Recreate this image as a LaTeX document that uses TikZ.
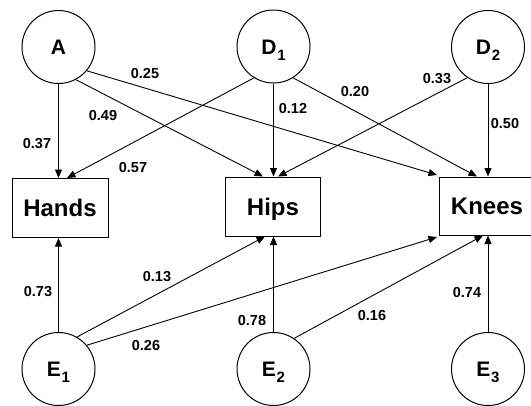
\documentclass[tikz,border=0pt]{standalone}
\usepackage{fontspec}
\setmainfont{Liberation Sans}
\usetikzlibrary{arrows.meta}
\newcommand\lsub[1]{\kern0.8pt\raisebox{-6pt}{\fontsize{15}{15}\selectfont #1}}
\begin{document}
\begin{tikzpicture}[x=1pt,y=-1pt,
  lat/.style={circle,draw,line width=1pt,minimum size=73pt,inner sep=0pt,text height=15pt,text depth=0pt,font=\fontsize{21}{24}\selectfont\bfseries},
  obs/.style={rectangle,draw,line width=1pt,minimum height=59pt,inner sep=0pt,text height=17pt,text depth=0pt,font=\fontsize{24}{26}\selectfont\bfseries},
  arr/.style={line width=0.9pt,-{Triangle[length=8.5pt,width=7pt]}},
  lbl/.style={font=\fontsize{14.5}{16}\selectfont\bfseries,inner sep=0pt,text height=10.4pt,text depth=0pt}]
\useasboundingbox (0,0) rectangle (531,405);
\clip (0,0) rectangle (531,405);
% latent nodes
\node[lat] (A)  at (58.5,47) {A};
\node[lat] (D1) at (273.5,46.5) {D\lsub{1}};
\node[lat] (D2) at (488,47) {D\lsub{2}};
\node[lat] (E1) at (58.5,369) {E\lsub{1}};
\node[lat] (E2) at (273.5,369) {E\lsub{2}};
\node[lat] (E3) at (488,369) {E\lsub{3}};
% observed nodes
\node[obs,minimum width=96pt] (hands) at (60,208) {Hands};
\node[obs,minimum width=95pt] (hips) at (273,206.5) {Hips};
\node[obs,minimum width=96pt,minimum height=58pt] (knees) at (487,206) {Knees};
% arrows from top
\draw[arr] (A) -- (A |- hands.north);
\draw[arr] (A.-62) -- ([xshift=-10pt]hips.north);
\draw[arr] (A.-40) -- ([xshift=-1.5pt,yshift=1.5pt]knees.north west);
\draw[arr] (D1.-122) -- ([xshift=7pt]hands.north);
\draw[arr] (D1) -- (D1 |- hips.north);
\draw[arr] (D1.-58) -- ([xshift=-10pt]knees.north);
\draw[arr] (D2.-124) -- ([xshift=5pt]hips.north);
\draw[arr] (D2) -- (D2 |- knees.north);
% arrows from bottom
\draw[arr] (E1) -- (E1 |- hands.south);
\draw[arr] (E1.60) -- ([xshift=-8pt]hips.south);
\draw[arr] (E1.40) -- ([xshift=-1.5pt,yshift=-1.5pt]knees.south west);
\draw[arr] (E2) -- (E2 |- hips.south);
\draw[arr] (E2.56) -- ([xshift=-4pt]knees.south);
\draw[arr] (E3) -- (E3 |- knees.south);
% labels
\node[lbl] (l1) at (145,73) {0.25};
\node[lbl] (l2) at (103,115) {0.49};
\node[lbl] (l3) at (37,143) {0.37};
\node[lbl] (l4) at (133,167) {0.57};
\node[lbl] (l5) at (293,108) {0.12};
\node[lbl] (l6) at (355,91) {0.20};
\node[lbl] (l7) at (437,78) {0.33};
\node[lbl] (l8) at (505,123) {0.50};
\node[lbl] (l9) at (38,291) {0.73};
\node[lbl] (l10) at (157,276) {0.13};
\node[lbl] (l11) at (146,345) {0.26};
\node[lbl] (l12) at (252,320) {0.78};
\node[lbl] (l13) at (372,315) {0.16};
\node[lbl] (l14) at (467,292) {0.74};
\end{tikzpicture}
\end{document}
